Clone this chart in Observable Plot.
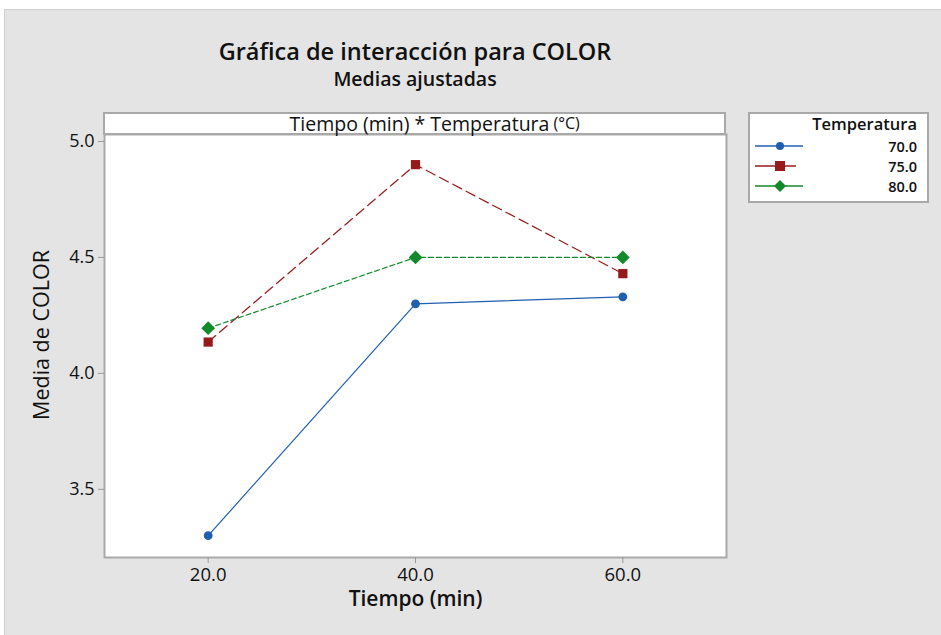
<!DOCTYPE html>
<html><head><meta charset="utf-8">
<script src="https://cdn.jsdelivr.net/npm/d3@7"></script>
<script src="https://cdn.jsdelivr.net/npm/@observablehq/plot@0.6"></script>
<style>
body{margin:0;background:#fff;font-family:"Open Sans",sans-serif;}
#wrap{position:relative;width:941px;height:635px;overflow:hidden;}
#panel{position:absolute;left:4px;top:9px;width:940px;height:630px;background:#e4e4e4;border-top:1px solid #cfcfcf;border-left:1px solid #cfcfcf;}
#title{position:absolute;left:0;width:830px;top:39px;line-height:25px;text-align:center;font-size:23.5px;font-weight:600;color:#111;}
#subtitle{position:absolute;left:0;width:830px;top:68px;line-height:21px;text-align:center;font-size:19.5px;font-weight:600;color:#111;}
#chart{position:absolute;left:0;top:0;}
#strip{position:absolute;left:103px;top:112px;width:619px;height:19px;background:#fff;border:2px solid #a9a9a9;color:#111;}
#strip span{position:absolute;left:5px;width:100%;top:0;text-align:center;font-size:19.5px;line-height:19px;white-space:nowrap;}
#strip span small{font-size:16px;position:absolute;margin-left:4px;}
#legend{position:absolute;left:748px;top:112px;width:177px;height:87px;background:#fff;border:2px solid #a9a9a9;}
#chart g[aria-label$="tick label"] text{font-weight:500;}
</style></head>
<body>
<div id="wrap">
<div id="panel"></div>
<div id="chart"></div>
<div id="title">Gráfica de interacción para COLOR</div>
<div id="subtitle">Medias ajustadas</div>
<div id="strip"><span>Tiempo (min) * Temperatura<small>(°C)</small></span></div>
<div id="legend"></div>
</div>
<script>
const tiempos = [20, 40, 60];
const temperaturas = ["70.0", "75.0", "80.0"];
const medias70 = [3.30, 4.30, 4.33];
const medias75 = [4.135, 4.90, 4.43];
const medias80 = [4.195, 4.50, 4.50];
const yTicks = [3.5, 4.0, 4.5, 5.0];
const xTicks = [20, 40, 60];

const colors = ["#1f5fb0", "#971a1a", "#138a2a"];
const symbols = ["circle", "square", "diamond2"];
const dashes = [null, "10,5", "5,3"];
const sizes = [4.4, 5.2, 6.2];

const series = [medias70, medias75, medias80];
const rows = [];
series.forEach((vals, i) => vals.forEach((v, j) => rows.push({temp: temperaturas[i], tiempo: tiempos[j], media: v})));

const marks = [Plot.frame({fill: "white", stroke: "#a9a9a9", strokeWidth: 2})];
temperaturas.forEach((t, i) => {
  const d = rows.filter(r => r.temp === t);
  marks.push(Plot.line(d, {x: "tiempo", y: "media", stroke: colors[i], strokeWidth: 1.2, strokeDasharray: dashes[i]}));
});
temperaturas.forEach((t, i) => {
  const d = rows.filter(r => r.temp === t);
  marks.push(Plot.dot(d, {x: "tiempo", y: "media", fill: colors[i], symbol: () => symbols[i], r: sizes[i], stroke: "none"}));
});
marks.push(Plot.axisY({ticks: yTicks, tickFormat: d3.format(".1f"), tickSize: 6, stroke: "#999", fontSize: 18, fill: "#111", tickPadding: 4, label: null}));
marks.push(Plot.axisX({ticks: xTicks, tickFormat: d3.format(".1f"), tickSize: 6, stroke: "#999", fontSize: 18.5, fill: "#111", tickPadding: 4, label: null}));

const plot = Plot.plot({
  width: 941, height: 635,
  marginLeft: 104, marginRight: 215, marginTop: 134, marginBottom: 78,
  x: {domain: [10, 70]},
  y: {domain: [3.206, 5.03]},
  style: {background: "transparent", fontFamily: "Open Sans, sans-serif"},
  marks: [
    ...marks,
    Plot.text(["Media de COLOR"], {frameAnchor: "left", textAnchor: "middle", dx: -62, dy: -11, rotate: -90, fontSize: 21.5, fill: "#111", fontWeight: 500}),
    Plot.text(["Tiempo (min)"], {frameAnchor: "bottom", dy: 48, fontSize: 21, fill: "#111", fontWeight: 600})
  ]
});
document.getElementById("chart").appendChild(plot);

// legend
const leg = document.getElementById("legend");
let html = '<div style="position:absolute;right:10px;top:1px;line-height:17px;font-size:16.5px;font-weight:600;color:#111">Temperatura</div>';
temperaturas.forEach((t, i) => {
  const y = 24 + i * 20;
  let sym = "";
  if (symbols[i] === "circle") sym = `<circle cx="25" cy="8" r="4" fill="${colors[i]}"/>`;
  else if (symbols[i] === "square") sym = `<rect x="20" y="3" width="10" height="10" fill="${colors[i]}"/>`;
  else sym = `<path d="M25 2 L31 8 L25 14 L19 8 Z" fill="${colors[i]}"/>`;
  const lineEnd = i === 1 ? 41 : 48;
  html += `<svg style="position:absolute;left:5px;top:${y}px" width="60" height="16"><line x1="0" x2="${lineEnd}" y1="8" y2="8" stroke="${colors[i]}" stroke-width="1.5"/>${sym}</svg>`;
  html += `<div style="position:absolute;right:10px;top:${y}px;line-height:17px;font-size:14.5px;font-weight:600;color:#111">${t}</div>`;
});
leg.innerHTML = html;
</script>
</body></html>
